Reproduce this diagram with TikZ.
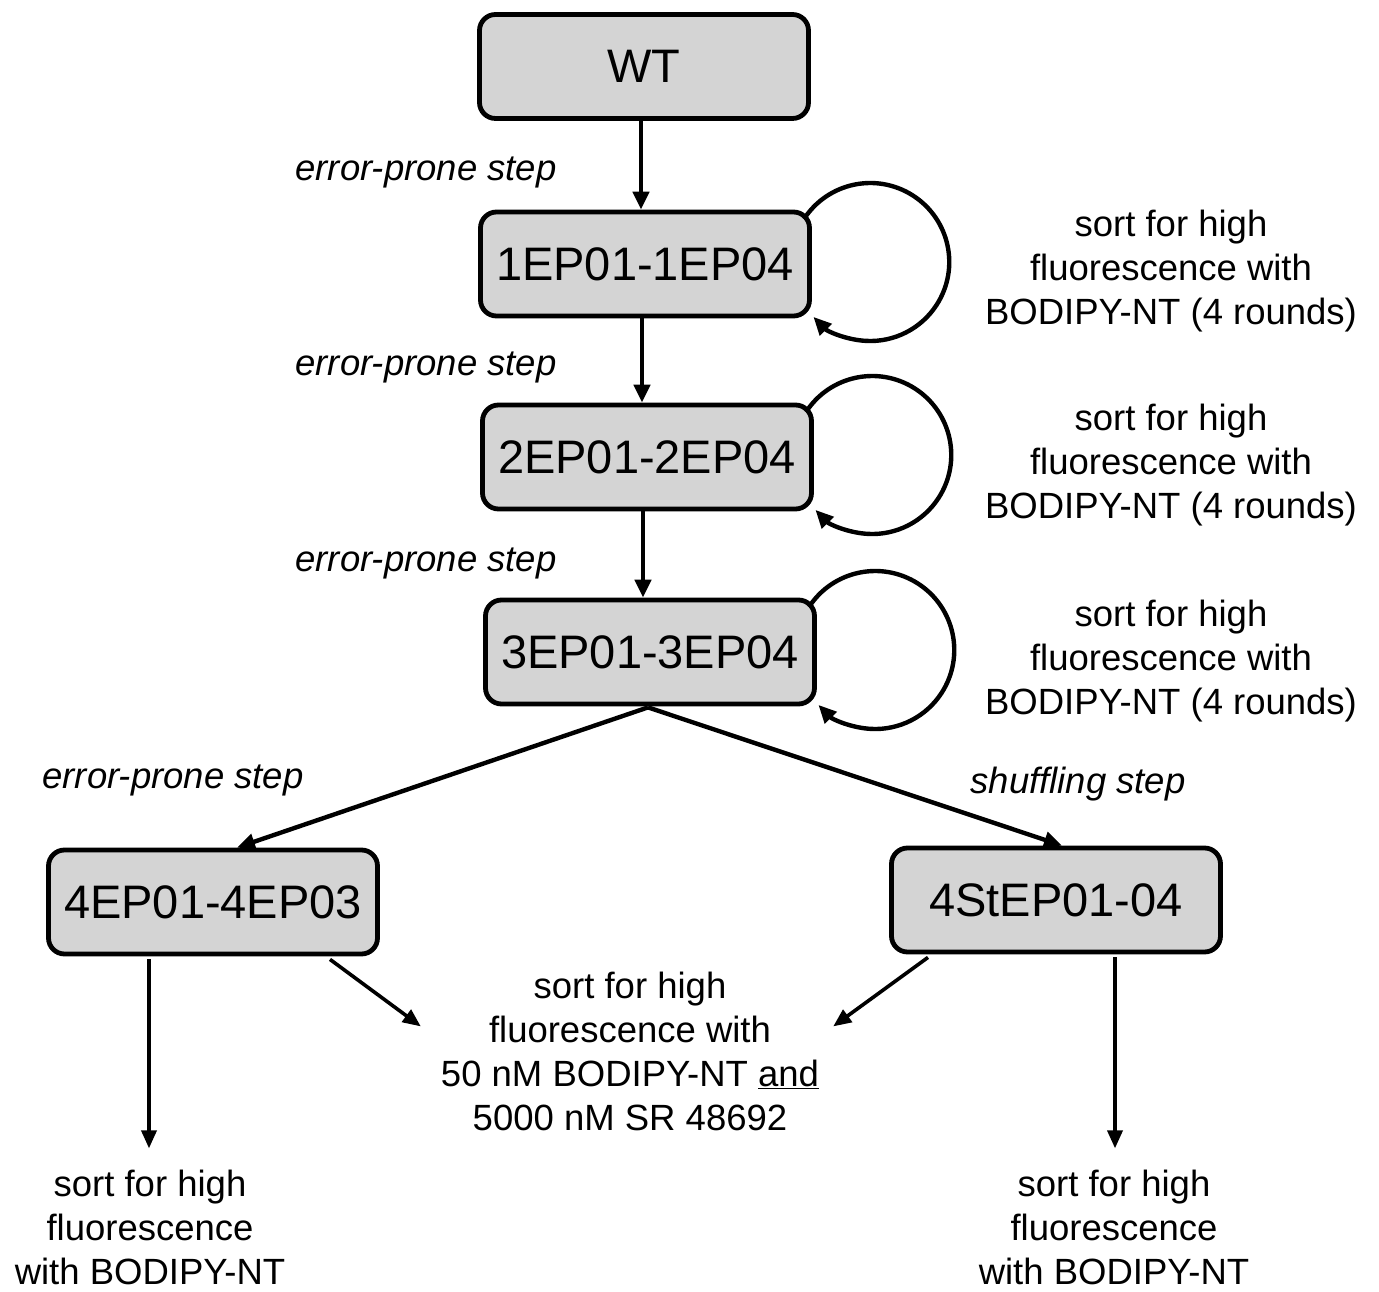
\documentclass[tikz,border=0pt]{standalone}
\usepackage{fontspec}
\setmainfont{Liberation Sans}
\usetikzlibrary{arrows.meta,calc}
\definecolor{boxgray}{HTML}{D4D4D4}
\begin{document}
\begin{tikzpicture}[x=1pt,y=1pt,
  box/.style={draw=black,fill=boxgray,line width=4.8pt,rounded corners=16pt,
    minimum width=329pt,minimum height=104pt,inner sep=0pt,
    font=\fontsize{47}{56}\selectfont},
  arr/.style={line width=4.4pt,-{Triangle[length=18pt,width=16pt]}},
  arrthin/.style={line width=3.6pt,-{Triangle[length=18pt,width=15pt]}},
  lbl/.style={align=center,inner sep=0pt,font=\fontsize{36.5}{44}\selectfont},
  steplbl/.style={inner sep=0pt,font=\fontsize{36.5}{44}\selectfont\itshape}]
\useasboundingbox (0,0) rectangle (1379,1291);
% boxes
\node[box] (wt) at (644,1224.5) {WT};
\node[box] (n1) at (645,1027) {1EP01-1EP04};
\node[box] (n2) at (647,834) {2EP01-2EP04};
\node[box] (n3) at (650,639) {3EP01-3EP04};
\node[box] (n4a) at (213,389) {4EP01-4EP03};
\node[box] (n4b) at (1056,391) {4StEP01-04};
% step labels
\node[steplbl] (s1) at (426,1119) {error-prone step};
\node[steplbl] (s2) at (426,924) {error-prone step};
\node[steplbl] (s3) at (426,728) {error-prone step};
\node[steplbl] (s4) at (173,511) {error-prone step};
\node[steplbl] (s5) at (1078,507) {shuffling step};
% sort labels
\node[lbl] (l1) at (1171,1020) {sort for high\\fluorescence with\\BODIPY-NT (4 rounds)};
\node[lbl] (l2) at (1171,826) {sort for high\\fluorescence with\\BODIPY-NT (4 rounds)};
\node[lbl] (l3) at (1171,630) {sort for high\\fluorescence with\\BODIPY-NT (4 rounds)};
\node[lbl] (lm) at (630,240) {sort for high\\fluorescence with\\50 nM BODIPY-NT \underline{and}\\5000 nM SR 48692};
\node[lbl] (lbl1) at (150,64) {sort for high\\fluorescence\\with BODIPY-NT};
\node[lbl] (lbr) at (1114,64) {sort for high\\fluorescence\\with BODIPY-NT};
% vertical arrows
\draw[arr] ($(wt.south)+(-3,0)$) -- ($(n1.north)+(-4,0)$);
\draw[arr] ($(n1.south)+(-3,0)$) -- ($(n2.north)+(-5,0)$);
\draw[arr] ($(n2.south)+(-4,0)$) -- ($(n3.north)+(-7,0)$);
% branches
\coordinate (br) at ($(n3.south)+(-2,-1)$);
\draw[arr] (br) -- ($(n4a.north)+(24,0)$);
\draw[arr] (br) -- ($(n4b.north)+(6,0)$);
% loops
\foreach \n in {n1,n2,n3}{
  \draw[arr] ($(\n.center)+(159,45)$) arc[start angle=147,end angle=-136,radius=79];
}
% lower arrows
\draw[arrthin] ($(n4a.south)+(117,-3)$) -- ($(lm.north west)+(-20,-55)$);
\draw[arrthin] ($(n4a.south)+(-64,-3)$) -- ($(lbl1.north)+(-1,21)$);
\draw[arrthin] ($(n4b.south)+(-128,-3)$) -- ($(lm.north east)+(14,-55)$);
\draw[arrthin] ($(n4b.south)+(59,-3)$) -- ($(lbr.north)+(1,21)$);
\end{tikzpicture}
\end{document}
